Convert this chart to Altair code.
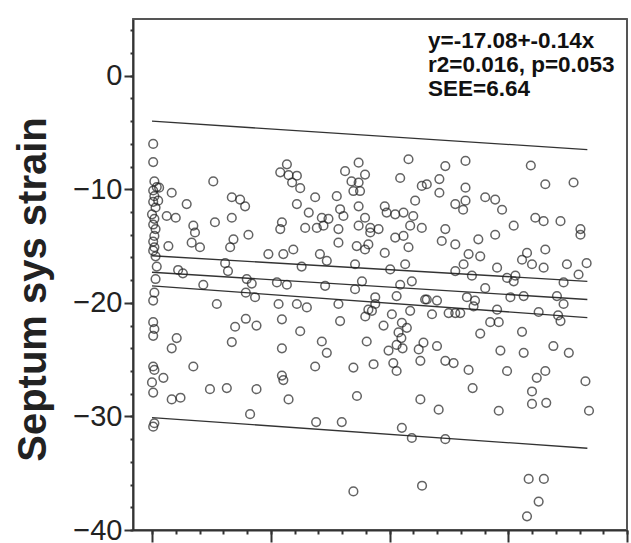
import altair as alt
import pandas as pd

# scatter points (x, Septum sys strain)
x_vals = [
    0.05, 0.05, 0.1, 0.2, 0.05, 0.1, 0.05, 0.15, 0.0, 0.1, 0.05, 0.15, 0.1, 0.05, 0.1, 0.05, 0.15, 0.2, 0.15, 0.1,
    0.05, 0.05, 0.1, 0.05, 0.05, 0.1, 0.0, 0.05, 0.1, 0.05, 0.3, 0.26, 0.48,
    0.83, 1.46, 2.58, 1.0, 0.62, 2.65, 1.74, 1.81, 1.67, 2.02, 0.69, 1.1, 1.3, 2.16, 2.73, 1.04, 0.83, 1.74, 0.83, 1.2, 2.44,
    3.36, 3.71, 3.92, 3.36, 4.06, 3.43, 3.29, 3.08, 3.2, 3.99, 4.2, 3.95, 4.34, 3.5, 3.95, 4.4, 3.36, 3.15, 4.4, 4.13,
    5.68, 5.4, 5.75, 6.1, 5.9, 6.24, 6.1, 6.87, 5.47, 5.4, 6.6, 7.15, 6.45, 6.94, 7.22, 4.9, 5.53, 5.95, 7.07, 7.36,
    6.3, 5.26, 5.68, 7.29, 5.33, 6.1, 6.52, 5.47, 6.24, 7.15, 7.36, 5.47, 5.47, 5.53, 5.75, 6.87, 6.91, 7.43,
    8.7, 8.13, 8.4, 8.97, 8.7, 8.48, 8.76, 10.8, 10.45, 11.36, 7.78, 11.08, 7.92, 8.06, 7.85, 8.7, 8.97, 8.7, 9.19, 9.19,
    9.54, 7.85, 9.8, 9.88, 10.24, 10.59, 11.0, 11.36, 10.87, 10.59, 10.24, 10.8, 9.8, 8.62, 8.97, 9.11, 8.55, 10.03, 10.66, 10.94,
    10.45, 8.84, 8.55, 9.4, 10.3, 7.85, 9.11, 9.4, 10.1, 10.87, 11.5, 7.92, 9.75, 10.52, 10.73, 10.5, 10.3, 9.04, 11.43, 8.98,
    9.26, 10.38, 9.96, 10.55, 8.48, 9.33, 10.16, 10.3, 11.23, 11.3, 8.63, 10.52, 10.94, 11.3, 7.99, 8.48, 11.37,
    12.0, 12.35, 12.7, 13.33, 13.82, 14.24, 14.6, 13.5, 12.07, 14.6, 12.35, 14.67, 14.95, 15.58, 15.65,
    13.2, 12.35, 12.1, 12.1, 13.2, 12.77, 13.2, 13.1, 14.03, 14.45, 14.74, 15.23, 11.57, 12.35, 12.2, 12.77, 13.74, 14.45,
    13.33, 13.82, 13.12, 12.77, 13.47, 14.53, 14.95, 15.3, 15.23, 15.58, 15.79, 14.03, 11.57, 12.0, 13.26, 13.6, 13.54,
    15.09, 15.65, 11.79, 12.49, 12.77, 12.98, 14.53,
    15.95, 16.56, 17.75, 16.14, 16.49, 17.2, 18.04, 18.04, 16.56, 16.0, 16.49, 17.47, 18.3, 17.96, 17.33, 17.05, 17.33,
    16.28, 17.1, 17.2, 16.9, 17.55, 16.56, 16.2, 16.0, 16.0, 16.6, 18.25, 18.4, 15.86, 16.5, 16.28, 15.79,
]
y_vals = [
    -6.0, -7.6, -9.3, -9.8, -10.1, -10.6, -11.1, -11.6, -12.2, -12.6, -13.1, -13.5, -14.1, -14.6, -15.1, -15.4, -15.9, -16.8, -17.9, -19.1,
    -19.8, -21.7, -22.3, -22.9, -25.6, -25.9, -27.0, -27.9, -30.6, -30.9, -9.85, -11.0, -26.6,
    -10.3, -11.3, -9.3, -12.5, -12.35, -12.9, -13.2, -13.8, -14.7, -15.1, -15.0, -17.1, -17.4, -18.4, -20.1, -23.1, -24.0, -25.6, -28.5, -28.35, -27.6,
    -10.7, -10.9, -11.5, -12.5, -14.0, -14.4, -15.1, -16.5, -17.2, -17.9, -18.3, -19.1, -19.5, -22.1, -21.4, -22.0, -23.45, -27.5, -27.6, -29.8,
    -7.8, -8.5, -8.75, -8.8, -9.4, -9.9, -11.3, -10.7, -12.9, -13.5, -12.05, -12.5, -13.4, -13.4, -13.2, -15.7, -15.7, -15.3, -15.7, -16.3,
    -16.8, -18.2, -18.4, -18.5, -20.1, -20.1, -20.4, -21.45, -22.5, -23.4, -24.4, -24.0, -26.4, -26.8, -28.5, -25.6, -30.5, -12.6,
    -7.65, -8.4, -9.3, -8.7, -9.4, -10.15, -10.15, -7.35, -9.0, -9.7, -10.6, -11.0, -11.75, -12.35, -13.5, -11.5, -12.5, -13.2, -13.4, -13.8,
    -13.5, -14.7, -11.5, -12.05, -12.2, -12.05, -12.35, -13.4, -13.2, -14.1, -14.25, -15.1, -15.6, -15.0, -15.3, -14.85, -16.6, -17.05, -16.6, -18.1,
    -18.4, -18.1, -18.8, -19.5, -19.4, -20.1, -20.6, -20.1, -21.0, -20.7, -19.7, -21.6, -22.0, -21.75, -22.2, -23.1, -23.7, -23.4, -23.5, -21.2,
    -20.7, -22.6, -24.2, -24.0, -25.7, -25.4, -25.3, -26.0, -24.1, -25.1, -28.2, -31.0, -31.9, -28.5, -30.5, -36.6, -36.1,
    -23.8, -25.1, -25.3, -25.9, -22.7, -21.7, -21.7, -27.5, -29.4, -29.5, -32.0, -24.2, -26.0, -22.55, -24.4,
    -7.5, -7.95, -9.1, -10.3, -9.85, -11.3, -11.0, -11.8, -10.7, -10.9, -11.8, -13.2, -9.55, -13.5, -14.55, -14.85, -14.4, -14.0,
    -15.7, -15.9, -16.6, -17.2, -17.6, -16.9, -17.8, -17.6, -18.1, -16.2, -15.6, -18.7, -19.7, -19.8, -19.5, -19.8, -20.3,
    -19.5, -19.4, -21.0, -20.9, -20.9, -20.9, -20.6,
    -7.9, -9.55, -9.4, -12.5, -12.8, -12.8, -13.5, -14.0, -15.3, -16.6, -16.9, -16.6, -16.5, -17.5, -18.2, -19.4, -20.1,
    -20.8, -21.1, -21.6, -23.8, -24.4, -26.0, -26.6, -27.8, -28.9, -28.8, -26.9, -29.5, -35.5, -35.5, -37.5, -38.8,
]

# regression line, 95% confidence band and prediction band (endpoints)
line_x = [0.0, 18.33]
fit_y = [-17.3, -19.7]
ci_upper_y = [-15.85, -18.1]
ci_lower_y = [-18.5, -21.3]
pi_upper_y = [-4.0, -6.5]
pi_lower_y = [-30.1, -32.8]

annotation = ["y=-17.08+-0.14x", "r2=0.016, p=0.053", "SEE=6.64"]

y_major = [0, -10, -20, -30, -40]
y_minor = [v for v in range(-40, 6, 2)]
x_major = [0, 5, 10, 15, 20]
x_minor = list(range(0, 21))

# panel frame: top edge and right edge (in data units, at the scale limits)
x_lo, x_hi = -0.8, 20
y_lo, y_hi = -40, 5

W, H = 494, 511

n = min(len(x_vals), len(y_vals))
pts = pd.DataFrame({"x": x_vals[:n], "y": y_vals[:n]})

rows = []
for name, ys in [("fit", fit_y), ("ci_up", ci_upper_y), ("ci_lo", ci_lower_y),
                 ("pi_up", pi_upper_y), ("pi_lo", pi_lower_y)]:
    for xv, yv in zip(line_x, ys):
        rows.append({"x": xv, "y": yv, "line": name})
lines = pd.DataFrame(rows)

edges = pd.DataFrame({
    "x": [x_lo, x_hi], "x2": [x_hi, x_hi],
    "y": [y_hi, y_lo], "y2": [y_hi, y_hi],
})

FONT = "Liberation Sans"
xscale = alt.Scale(domain=[x_lo, x_hi], nice=False, zero=False)
yscale = alt.Scale(domain=[y_lo, y_hi], nice=False, zero=False)

x_axis = alt.Axis(orient="bottom", values=x_major, tickSize=12, tickWidth=2, tickColor="#333",
                  labels=False, domainColor="#333", domainWidth=2, grid=False, title=None)
y_axis = alt.Axis(orient="left", values=y_major, tickSize=9, tickWidth=2, tickColor="#333",
                  labelFontSize=29, labelFont=FONT, labelColor="#222", labelPadding=2,
                  domainColor="#333", domainWidth=2, grid=False, title="Septum sys strain",
                  titleFont=FONT, titleFontSize=40, titleFontWeight="bold", titleColor="#222",
                  titleAngle=-90, titleAlign="center", titleBaseline="alphabetic",
                  titleX=-88, titleY=270)

frame = alt.Chart(edges).mark_rule(color="#555", strokeWidth=2).encode(
    x=alt.X("x:Q", scale=xscale, axis=None),
    x2="x2:Q",
    y=alt.Y("y:Q", scale=yscale, axis=None),
    y2="y2:Q",
)

points = alt.Chart(pts).mark_point(shape="circle", filled=False, size=75, strokeWidth=1.5,
                                   color="#222").encode(
    x=alt.X("x:Q", scale=xscale, axis=x_axis),
    y=alt.Y("y:Q", scale=yscale, axis=y_axis),
)

minor_x = alt.Axis(orient="bottom", values=x_minor, tickSize=4, tickWidth=2, tickColor="#333",
                   labels=False, domain=False, grid=False, title=None)
minor_y = alt.Axis(orient="left", values=y_minor, tickSize=3, tickWidth=2, tickColor="#333",
                   labels=False, domain=False, grid=False, title=None)

reg = alt.Chart(lines).mark_line(strokeWidth=1.3, color="#333").encode(
    x=alt.X("x:Q", scale=xscale, axis=minor_x),
    y=alt.Y("y:Q", scale=yscale, axis=minor_y),
    detail="line:N",
)

text = alt.Chart(pd.DataFrame({"a": [0]})).mark_text(
    text=annotation, align="left", baseline="alphabetic", font=FONT, fontWeight="bold",
    fontSize=22.5, lineHeight=24, color="#111",
).encode(x=alt.value(295), y=alt.value(29))

chart = alt.layer(reg, points, frame, text).resolve_axis(x="independent", y="independent").properties(
    width=W, height=H,
    padding={"left": 133, "top": 19, "right": 4, "bottom": 13},
    autosize=alt.AutoSizeParams(type="none"),
    background="white",
).configure_view(stroke="#666", strokeWidth=2)

chart.save("out.html", embed_options={"renderer": "svg", "actions": False})
